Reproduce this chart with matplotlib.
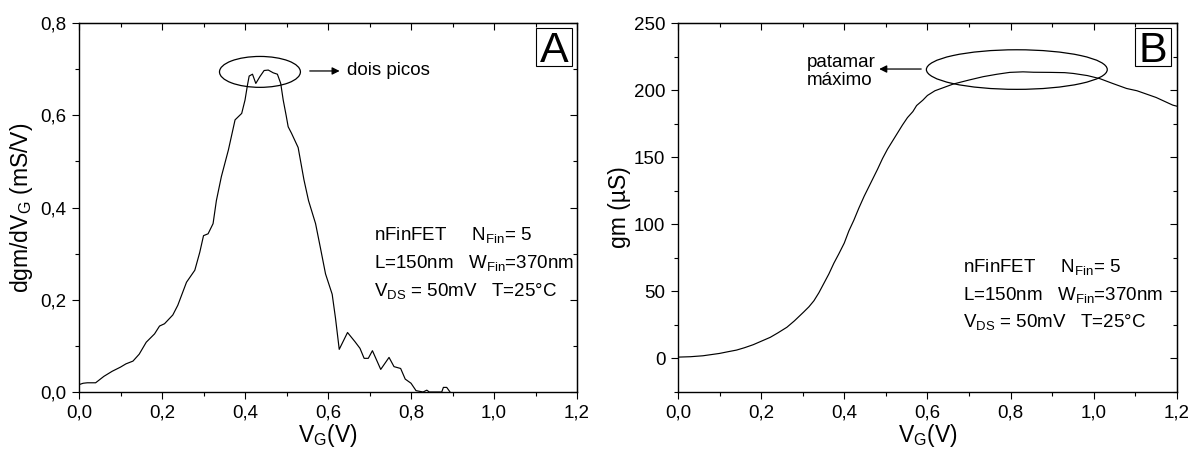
import matplotlib
matplotlib.use("Agg")
import matplotlib.pyplot as plt
from matplotlib.patches import Ellipse, Rectangle
from matplotlib.ticker import MultipleLocator

plt.rcParams['font.family'] = ['Liberation Sans', 'DejaVu Sans']
plt.rcParams['mathtext.fontset'] = 'custom'
plt.rcParams['mathtext.rm'] = 'Liberation Sans'
plt.rcParams['mathtext.default'] = 'regular'

# panel A: dgm/dVG (mS/V) vs VG (V)
vg_a = [0.0, 0.01, 0.02, 0.04, 0.06, 0.08, 0.10, 0.113, 0.13, 0.145, 0.162,
        0.182, 0.194, 0.206, 0.226, 0.238, 0.259, 0.279, 0.291, 0.30, 0.311,
        0.323, 0.331, 0.343, 0.36, 0.376, 0.392, 0.40, 0.406, 0.41, 0.418,
        0.426, 0.436, 0.446, 0.456, 0.468, 0.478, 0.486, 0.492, 0.499, 0.504,
        0.512, 0.528, 0.542, 0.553, 0.57, 0.582, 0.594, 0.61, 0.618, 0.627,
        0.647, 0.665, 0.677, 0.687, 0.697, 0.707, 0.727, 0.747, 0.759, 0.775,
        0.786, 0.80, 0.812, 0.829, 0.838, 0.844, 0.874, 0.878, 0.886, 0.894]
dgm_a = [0.016, 0.019, 0.02, 0.02, 0.034, 0.045, 0.054, 0.061, 0.067, 0.082,
         0.108, 0.126, 0.143, 0.148, 0.167, 0.188, 0.238, 0.264, 0.303, 0.339,
         0.343, 0.365, 0.415, 0.467, 0.525, 0.59, 0.604, 0.633, 0.666, 0.685,
         0.689, 0.669, 0.684, 0.697, 0.698, 0.692, 0.689, 0.669, 0.633, 0.60,
         0.575, 0.561, 0.530, 0.46, 0.415, 0.365, 0.311, 0.256, 0.212, 0.16,
         0.0925, 0.129, 0.109, 0.0947, 0.073, 0.073, 0.0896, 0.049, 0.075,
         0.055, 0.051, 0.028, 0.019, 0.003, 0.0, 0.004, 0.0, 0.0, 0.010, 0.010,
         0.0]

# panel B: gm (uS) vs VG (V)
vg_b = [0.0, 0.03, 0.06, 0.10, 0.12, 0.141, 0.16, 0.181, 0.20, 0.222, 0.24,
        0.262, 0.28, 0.302, 0.315, 0.327, 0.339, 0.351, 0.363, 0.375, 0.387,
        0.40, 0.411, 0.423, 0.435, 0.448, 0.456, 0.464, 0.472, 0.48, 0.492,
        0.504, 0.516, 0.528, 0.54, 0.552, 0.565, 0.574, 0.589, 0.60, 0.618,
        0.64, 0.662, 0.70, 0.734, 0.767, 0.798, 0.83, 0.855, 0.895, 0.93,
        0.951, 0.985, 1.015, 1.045, 1.079, 1.104, 1.15, 1.19, 1.2]
gm_b = [1.0, 1.3, 2.0, 3.75, 5.0, 6.25, 8.0, 10.25, 12.8, 15.75, 19.0, 23.25,
        28.0, 34.5, 38.5, 43.0, 49.0, 56.0, 63.0, 71.0, 78.0, 86.0, 95.0, 103.0,
        112.0, 121.0, 126.0, 131.0, 136.0, 141.0, 149.0, 156.0, 162.0, 168.0,
        174.0, 179.5, 184.0, 188.5, 192.5, 196.0, 199.5, 202.0, 204.5, 207.5,
        210.0, 211.8, 213.2, 213.6, 213.3, 213.2, 213.0, 212.4, 210.8, 208.5,
        205.0, 201.2, 199.5, 194.5, 188.8, 188.0]

x_ticks = [0.0, 0.2, 0.4, 0.6, 0.8, 1.0, 1.2]
x_tick_labels = ['0,0', '0,2', '0,4', '0,6', '0,8', '1,0', '1,2']
ya_ticks = [0.0, 0.2, 0.4, 0.6, 0.8]
ya_tick_labels = ['0,0', '0,2', '0,4', '0,6', '0,8']
yb_ticks = [0, 50, 100, 150, 200, 250]
yb_tick_labels = ['0', '50', '100', '150', '200', '250']

info_lines = ['nFinFET     N$_{Fin}$= 5',
              'L=150nm   W$_{Fin}$=370nm',
              'V$_{DS}$ = 50mV   T=25°C']

fig = plt.figure(figsize=(11.9, 4.51), dpi=100)
ax_a = fig.add_axes([0.0664, 0.1308, 0.4185, 0.8182])
ax_b = fig.add_axes([0.5697, 0.1308, 0.4193, 0.8182])


def style(ax, yticks, ylabels, yminor):
    ax.set_xticks(x_ticks)
    ax.set_xticklabels(x_tick_labels)
    ax.set_yticks(yticks)
    ax.set_yticklabels(ylabels)
    ax.xaxis.set_minor_locator(MultipleLocator(0.1))
    ax.yaxis.set_minor_locator(MultipleLocator(yminor))
    ax.tick_params(which='major', direction='out', length=5, width=0.8,
                   labelsize=13.5, pad=4)
    ax.tick_params(which='minor', direction='out', length=3, width=0.8)
    for s in ax.spines.values():
        s.set_linewidth(1.0)
    # inward ticks on top and right
    top = ax.secondary_xaxis('top')
    top.set_xticks(x_ticks)
    top.xaxis.set_minor_locator(MultipleLocator(0.1))
    top.tick_params(which='major', direction='in', length=5, width=0.8,
                    labeltop=False)
    top.tick_params(which='minor', direction='in', length=3, width=0.8)
    right = ax.secondary_yaxis('right')
    right.set_yticks(yticks)
    right.yaxis.set_minor_locator(MultipleLocator(yminor))
    right.tick_params(which='major', direction='in', length=5, width=0.8,
                      labelright=False)
    right.tick_params(which='minor', direction='in', length=3, width=0.8)
    ax.set_xlabel('V$_G$(V)', fontsize=16.5, labelpad=0)


# ---- panel A ----
ax_a.plot(vg_a, dgm_a, color='black', lw=0.85)
ax_a.set_xlim(0, 1.2)
ax_a.set_ylim(0, 0.8)
style(ax_a, ya_ticks, ya_tick_labels, 0.1)
ax_a.set_ylabel('dgm/dV$_G$ (mS/V)', fontsize=16.5, labelpad=4)
ax_a.add_patch(Ellipse((0.436, 0.694), 0.195, 0.067, fill=False,
                       ec='black', lw=0.9))
ax_a.annotate('', xy=(0.628, 0.696), xytext=(0.556, 0.696),
              arrowprops=dict(arrowstyle='-|>', color='black', lw=0.9,
                              mutation_scale=11, shrinkA=0, shrinkB=0))
ax_a.text(0.645, 0.696, 'dois picos', fontsize=13.5, va='center', ha='left')
for i, line in enumerate(info_lines):
    ax_a.text(0.71, 0.340 - i * 0.061, line, fontsize=13.5, va='center')
ax_a.add_patch(Rectangle((0.918, 0.883), 0.0723, 0.103, transform=ax_a.transAxes,
                         fill=False, ec='black', lw=0.8))
ax_a.text(0.954, 0.893, 'A', fontsize=31, ha='center', va='baseline',
          transform=ax_a.transAxes)

# ---- panel B ----
ax_b.plot(vg_b, gm_b, color='black', lw=0.85)
ax_b.set_xlim(0, 1.2)
ax_b.set_ylim(-25, 250)
style(ax_b, yb_ticks, yb_tick_labels, 25)
ax_b.set_ylabel('gm (µS)', fontsize=16.5, labelpad=2)
ax_b.add_patch(Ellipse((0.815, 215.3), 0.435, 29.5, fill=False,
                       ec='black', lw=0.9))
ax_b.annotate('', xy=(0.484, 215.7), xytext=(0.585, 215.7),
              arrowprops=dict(arrowstyle='-|>', color='black', lw=0.9,
                              mutation_scale=11, shrinkA=0, shrinkB=0))
ax_b.text(0.31, 214.0, 'patamar\nmáximo', fontsize=13.5, va='center', ha='left',
          linespacing=1.1)
for i, line in enumerate(info_lines):
    ax_b.text(0.685, 67.9 - i * 20.5, line, fontsize=13.5, va='center')
ax_b.add_patch(Rectangle((0.916, 0.883), 0.072, 0.103, transform=ax_b.transAxes,
                         fill=False, ec='black', lw=0.8))
ax_b.text(0.952, 0.893, 'B', fontsize=31, ha='center', va='baseline',
          transform=ax_b.transAxes)

fig.savefig('out.png', dpi=100)
